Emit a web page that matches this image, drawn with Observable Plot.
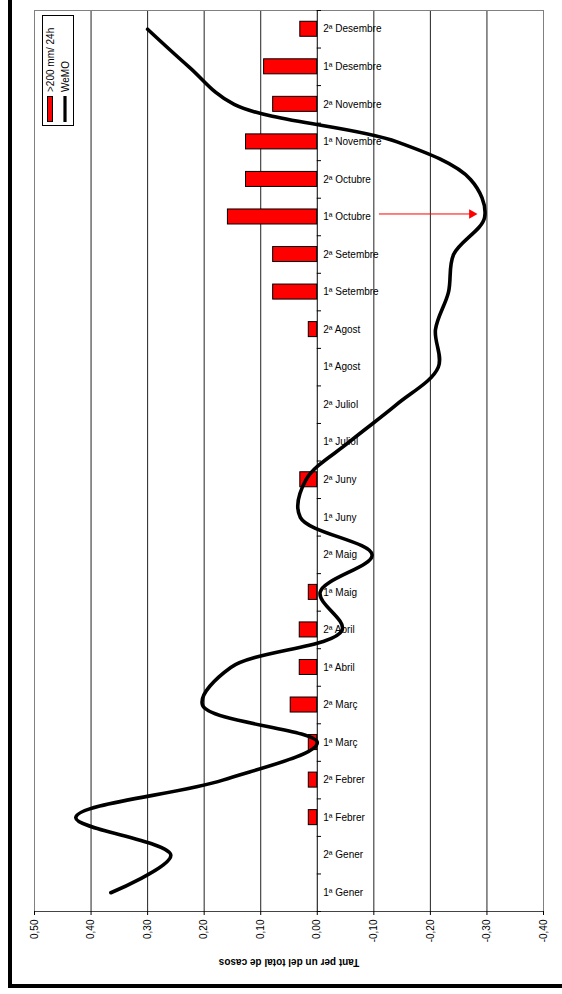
<!DOCTYPE html>
<html><head><meta charset="utf-8">
<script src="https://cdn.jsdelivr.net/npm/d3@7"></script>
<script src="https://cdn.jsdelivr.net/npm/@observablehq/plot@0.6"></script>
<style>body{margin:0;background:#fff;font-family:"Liberation Sans",Arial,sans-serif}#chart{position:relative;width:562px;height:994px}</style>
</head><body><div id="chart"></div>
<script>
const categories = ["1ª Gener","2ª Gener","1ª Febrer","2ª Febrer","1ª Març","2ª Març","1ª Abril","2ª Abril","1ª Maig","2ª Maig","1ª Juny","2ª Juny","1ª Juliol","2ª Juliol","1ª Agost","2ª Agost","1ª Setembre","2ª Setembre","1ª Octubre","2ª Octubre","1ª Novembre","2ª Novembre","1ª Desembre","2ª Desembre"];
const rain200 = [0,0,0.015,0.015,0.015,0.047,0.031,0.031,0.015,0,0,0.03,0,0,0,0.015,0.078,0.078,0.158,0.126,0.126,0.078,0.094,0.03];
const wemo = [0.365,0.259,0.427,0.167,0.0,0.203,0.153,-0.044,-0.005,-0.097,0.03,0.02,-0.056,-0.14,-0.214,-0.209,-0.232,-0.241,-0.296,-0.271,-0.141,0.147,0.227,0.300];
const xTicks = [0.5,0.4,0.3,0.2,0.1,0,-0.1,-0.2,-0.3,-0.4];
const seriesNames = [">200 mm/ 24h", "WeMO"];
const axisTitle = "Tant per un del total de casos";
const arrowNote = [{from: -0.109, to: -0.277, cat: "1ª Octubre", shift: 0.08}];

const rows = categories.map((c, i) => ({cat: c, i, rain: rain200[i], wemo: wemo[i]}));
const boundaries = d3.range(-0.5, categories.length, 1);
const fmt = d => d.toFixed(2).replace(".", ",").replace("-0,00", "0,00");
const arrows = arrowNote.map(a => ({x1: a.from, x2: a.to, y: categories.indexOf(a.cat) + a.shift}));

const chart = Plot.plot({
  width: 562, height: 994,
  marginLeft: 34, marginRight: 19, marginTop: 10, marginBottom: 83,
  x: {domain: [0.5, -0.4]},
  y: {domain: [-0.5, categories.length - 0.5], axis: null},
  style: {fontFamily: "'Liberation Sans', Arial, sans-serif", fontSize: "10px", background: "white", color: "#000"},
  marks: [
    Plot.ruleX(xTicks.filter(v => v !== 0), {stroke: "#222", strokeWidth: 1}),
    Plot.frame({stroke: "#808080"}),
    Plot.ruleY([-0.5], {stroke: "#444"}),
    Plot.rectX(rows.filter(r => r.rain > 0), {x1: 0, x2: "rain", y1: r => r.i - 0.2, y2: r => r.i + 0.2, fill: "#ff0000", stroke: "#000", strokeWidth: 1}),
    Plot.ruleX([0], {stroke: "#000", strokeWidth: 1}),
    Plot.ruleY(boundaries, {x1: 0, x2: -0.0075, stroke: "#000"}),
    Plot.text(rows, {x: 0, y: "i", text: "cat", textAnchor: "start", dx: 6, fontSize: 10, fill: "#000"}),
    Plot.link(arrows, {x1: "x1", x2: "x2", y1: "y", y2: "y", stroke: "#ff0000", strokeWidth: 1}),
    Plot.dot(arrows, {x: "x2", y: "y", symbol: "triangle", rotate: 90, fill: "#ff0000", r: 3.6, dx: -2}),
    Plot.line(rows, {x: "wemo", y: "i", curve: "catmull-rom", stroke: "#000", strokeWidth: 3.6, strokeLinejoin: "round"}),
    Plot.axisX(xTicks, {tickRotate: -90, tickFormat: fmt, tickSize: 4, tickPadding: 4, fontSize: 10, label: null, stroke: "#000"}),
    Plot.text([axisTitle], {frameAnchor: "bottom", dy: 47, rotate: 180, fontWeight: "bold", fontSize: 10, fill: "#000"})
  ]
});
document.getElementById("chart").appendChild(chart);

// legend + outer frame
const svg = d3.select(chart);
const lg = svg.append("g");
lg.append("rect").attr("x", 42.5).attr("y", 15.5).attr("width", 31).attr("height", 110).attr("fill", "#fff").attr("stroke", "#000");
lg.append("rect").attr("x", 47.5).attr("y", 96.5).attr("width", 5).attr("height", 25).attr("fill", "#ff0000").attr("stroke", "#000");
lg.append("line").attr("x1", 65).attr("x2", 65).attr("y1", 96).attr("y2", 122).attr("stroke", "#000").attr("stroke-width", 3.2);
seriesNames.forEach((t, k) => {
  lg.append("text").attr("transform", `translate(${k ? 69 : 54},92) rotate(-90)`)
    .attr("font-size", 10).attr("fill", "#000").attr("text-anchor", "start").text(t);
});
svg.append("line").attr("x1", 10).attr("x2", 10).attr("y1", 0).attr("y2", 988).attr("stroke", "#000").attr("stroke-width", 4);
svg.append("line").attr("x1", 8).attr("x2", 562).attr("y1", 986).attr("y2", 986).attr("stroke", "#000").attr("stroke-width", 4);
</script>
</body></html>
